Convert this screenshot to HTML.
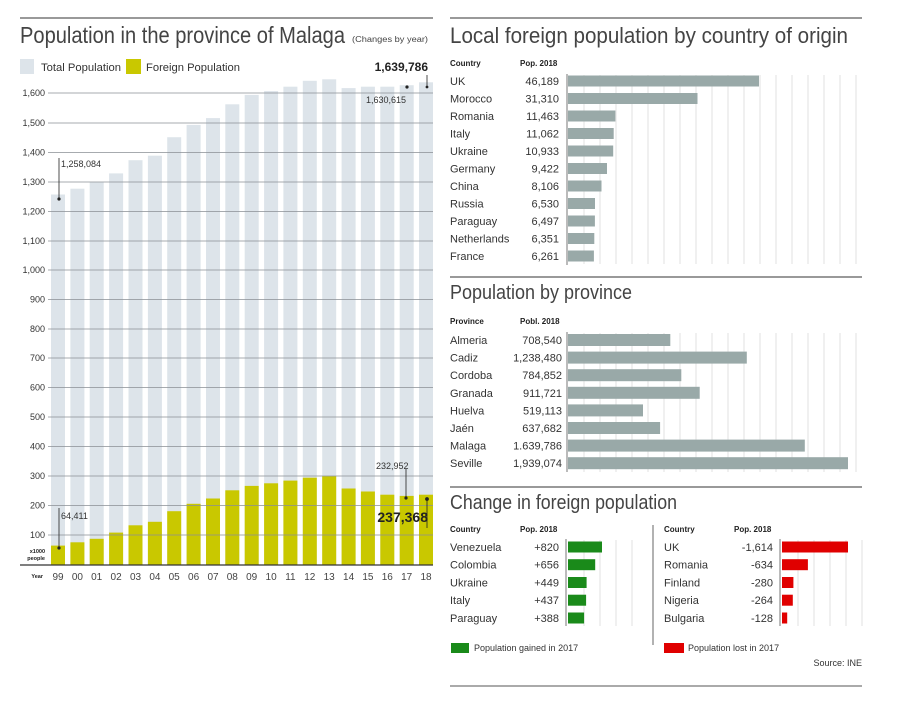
<!DOCTYPE html>
<html><head><meta charset="utf-8"><style>
body{margin:0;background:#fff}
svg{display:block;font-family:"Liberation Sans",sans-serif}
</style></head><body>
<svg width="900" height="708" viewBox="0 0 900 708" xmlns="http://www.w3.org/2000/svg">
<rect width="900" height="708" fill="#fff"/>
<!-- LEFT -->
<line x1="20" y1="18" x2="433" y2="18" stroke="#333" stroke-width="1"/>
<text x="20" y="43" font-size="23" fill="#444" textLength="325" lengthAdjust="spacingAndGlyphs">Population in the province of Malaga</text>
<text x="352" y="42" font-size="8" fill="#444" textLength="76" lengthAdjust="spacingAndGlyphs">(Changes by year)</text>
<rect x="20" y="59" width="14" height="15" fill="#dde4ea"/>
<text x="41" y="71" font-size="11" fill="#333" textLength="80" lengthAdjust="spacingAndGlyphs">Total Population</text>
<rect x="126" y="59" width="15" height="15" fill="#c9c800"/>
<text x="146" y="71" font-size="11" fill="#333" textLength="94" lengthAdjust="spacingAndGlyphs">Foreign Population</text>
<text x="428" y="71" font-size="12" font-weight="bold" text-anchor="end" fill="#222">1,639,786</text>
<g fill="#dde4ea">
<rect x="51" y="194.5" width="14" height="370.5"/><rect x="70.4" y="188.7" width="14" height="376.3"/><rect x="89.7" y="182.2" width="14" height="382.8"/><rect x="109.1" y="173.4" width="14" height="391.6"/><rect x="128.5" y="160.2" width="14" height="404.8"/><rect x="147.9" y="155.7" width="14" height="409.3"/><rect x="167.2" y="137.2" width="14" height="427.8"/><rect x="186.6" y="124.9" width="14" height="440.1"/><rect x="206" y="118.1" width="14" height="446.9"/><rect x="225.3" y="104.3" width="14" height="460.7"/><rect x="244.7" y="94.9" width="14" height="470.1"/><rect x="264.1" y="91.1" width="14" height="473.9"/><rect x="283.4" y="86.7" width="14" height="478.3"/><rect x="302.8" y="80.8" width="14" height="484.2"/><rect x="322.2" y="79.3" width="14" height="485.7"/><rect x="341.6" y="88.1" width="14" height="476.9"/><rect x="360.9" y="86.7" width="14" height="478.3"/><rect x="380.3" y="86.7" width="14" height="478.3"/><rect x="399.7" y="85.2" width="14" height="479.8"/><rect x="419" y="82.3" width="14" height="482.7"/>
</g>
<g fill="#c9c800">
<rect x="51" y="545.6" width="14" height="19.4"/><rect x="70.4" y="542.3" width="14" height="22.7"/><rect x="89.7" y="538.8" width="14" height="26.2"/><rect x="109.1" y="532.6" width="14" height="32.4"/><rect x="128.5" y="525.3" width="14" height="39.7"/><rect x="147.9" y="521.8" width="14" height="43.2"/><rect x="167.2" y="511.2" width="14" height="53.8"/><rect x="186.6" y="503.8" width="14" height="61.2"/><rect x="206" y="498.5" width="14" height="66.5"/><rect x="225.3" y="490.3" width="14" height="74.7"/><rect x="244.7" y="485.9" width="14" height="79.1"/><rect x="264.1" y="483.3" width="14" height="81.7"/><rect x="283.4" y="480.6" width="14" height="84.4"/><rect x="302.8" y="477.7" width="14" height="87.3"/><rect x="322.2" y="476.2" width="14" height="88.8"/><rect x="341.6" y="488.5" width="14" height="76.5"/><rect x="360.9" y="491.5" width="14" height="73.5"/><rect x="380.3" y="494.7" width="14" height="70.3"/><rect x="399.7" y="495.9" width="14" height="69.1"/><rect x="419" y="494.7" width="14" height="70.3"/>
</g>
<g stroke="#8a8f94" stroke-width="0.8">
<line x1="48" y1="93" x2="433" y2="93"/><line x1="48" y1="123" x2="433" y2="123"/><line x1="48" y1="152.5" x2="433" y2="152.5"/><line x1="48" y1="182" x2="433" y2="182"/><line x1="48" y1="211.5" x2="433" y2="211.5"/><line x1="48" y1="241" x2="433" y2="241"/><line x1="48" y1="270" x2="433" y2="270"/><line x1="48" y1="299.5" x2="433" y2="299.5"/><line x1="48" y1="329" x2="433" y2="329"/><line x1="48" y1="358" x2="433" y2="358"/><line x1="48" y1="387.5" x2="433" y2="387.5"/><line x1="48" y1="417" x2="433" y2="417"/><line x1="48" y1="446.5" x2="433" y2="446.5"/><line x1="48" y1="476" x2="433" y2="476"/><line x1="48" y1="505.5" x2="433" y2="505.5"/><line x1="48" y1="535" x2="433" y2="535"/>
</g>
<line x1="20" y1="565" x2="433" y2="565" stroke="#333" stroke-width="1.2"/>
<g font-size="9" fill="#333" text-anchor="end">
<text x="45" y="96">1,600</text><text x="45" y="126">1,500</text><text x="45" y="155.5">1,400</text><text x="45" y="185">1,300</text><text x="45" y="214.5">1,200</text><text x="45" y="244">1,100</text><text x="45" y="273">1,000</text><text x="45" y="302.5">900</text><text x="45" y="332">800</text><text x="45" y="361">700</text><text x="45" y="390.5">600</text><text x="45" y="420">500</text><text x="45" y="449.5">400</text><text x="45" y="479">300</text><text x="45" y="508.5">200</text><text x="45" y="538">100</text>
</g>
<text x="45" y="553" font-size="5.5" font-weight="bold" text-anchor="end" fill="#222">x1000</text>
<text x="45" y="560" font-size="5.5" font-weight="bold" text-anchor="end" fill="#222">people</text>
<text x="43" y="578" font-size="5.5" font-weight="bold" text-anchor="end" fill="#222">Year</text>
<g font-size="10" fill="#444" text-anchor="middle">
<text x="58" y="580">99</text><text x="77.4" y="580">00</text><text x="96.7" y="580">01</text><text x="116.1" y="580">02</text><text x="135.5" y="580">03</text><text x="154.9" y="580">04</text><text x="174.2" y="580">05</text><text x="193.6" y="580">06</text><text x="213" y="580">07</text><text x="232.3" y="580">08</text><text x="251.7" y="580">09</text><text x="271.1" y="580">10</text><text x="290.4" y="580">11</text><text x="309.8" y="580">12</text><text x="329.2" y="580">13</text><text x="348.6" y="580">14</text><text x="367.9" y="580">15</text><text x="387.3" y="580">16</text><text x="406.7" y="580">17</text><text x="426" y="580">18</text>
</g>
<g stroke="#222" stroke-width="0.8" fill="#222">
<line x1="59" y1="158" x2="59" y2="199"/><circle cx="59" cy="199" r="1.2"/>
<line x1="59" y1="508" x2="59" y2="548"/><circle cx="59" cy="548" r="1.2"/>
<line x1="406" y1="469" x2="406" y2="498"/><circle cx="406" cy="498" r="1.2"/>
<line x1="427" y1="500" x2="427" y2="528"/><circle cx="427" cy="499" r="1.5"/>
<line x1="427" y1="75" x2="427" y2="88"/><circle cx="427" cy="87" r="1"/>
<circle cx="407" cy="87" r="1.2"/>
</g>
<g font-size="9" fill="#333">
<text x="61" y="167">1,258,084</text>
<text x="61" y="519">64,411</text>
<text x="366" y="103">1,630,615</text>
<text x="376" y="469">232,952</text>
</g>
<text x="428" y="522" font-size="14" font-weight="bold" text-anchor="end" fill="#222">237,368</text>

<!-- RIGHT TOP -->
<line x1="450" y1="18" x2="862" y2="18" stroke="#333"/>
<text x="450" y="43" font-size="22" fill="#444" textLength="398" lengthAdjust="spacingAndGlyphs">Local foreign population by country of origin</text>
<text x="450" y="66" font-size="8" font-weight="bold" fill="#222">Country</text>
<text x="520" y="66" font-size="8" font-weight="bold" fill="#222">Pop. 2018</text>
<path d="M584 75V264M600 75V264M616 75V264M632 75V264M648 75V264M664 75V264M680 75V264M696 75V264M712 75V264M728 75V264M744 75V264M760 75V264M776 75V264M792 75V264M808 75V264M824 75V264M840 75V264M856 75V264" stroke="#e2e2e2" stroke-width="1"/>
<line x1="567" y1="74" x2="567" y2="265" stroke="#777"/>
<g fill="#99a9a8">
<rect x="568" y="75.5" width="191" height="11"/><rect x="568" y="93" width="129.5" height="11"/><rect x="568" y="110.5" width="47.4" height="11"/><rect x="568" y="128" width="45.7" height="11"/><rect x="568" y="145.5" width="45.2" height="11"/><rect x="568" y="163" width="39" height="11"/><rect x="568" y="180.5" width="33.5" height="11"/><rect x="568" y="198" width="27" height="11"/><rect x="568" y="215.5" width="26.9" height="11"/><rect x="568" y="233" width="26.3" height="11"/><rect x="568" y="250.5" width="25.9" height="11"/>
</g>
<g font-size="11" fill="#333">
<text x="450" y="85">UK</text><text x="450" y="102.5">Morocco</text><text x="450" y="120">Romania</text><text x="450" y="137.5">Italy</text><text x="450" y="155">Ukraine</text><text x="450" y="172.5">Germany</text><text x="450" y="190">China</text><text x="450" y="207.5">Russia</text><text x="450" y="225">Paraguay</text><text x="450" y="242.5">Netherlands</text><text x="450" y="260">France</text>
</g>
<g font-size="11" fill="#333" text-anchor="end">
<text x="559" y="85">46,189</text><text x="559" y="102.5">31,310</text><text x="559" y="120">11,463</text><text x="559" y="137.5">11,062</text><text x="559" y="155">10,933</text><text x="559" y="172.5">9,422</text><text x="559" y="190">8,106</text><text x="559" y="207.5">6,530</text><text x="559" y="225">6,497</text><text x="559" y="242.5">6,351</text><text x="559" y="260">6,261</text>
</g>
<line x1="450" y1="277" x2="862" y2="277" stroke="#333"/>

<!-- PROVINCE -->
<text x="450" y="299" font-size="20" fill="#444" textLength="182" lengthAdjust="spacingAndGlyphs">Population by province</text>
<text x="450" y="324" font-size="8" font-weight="bold" fill="#222">Province</text>
<text x="520" y="324" font-size="8" font-weight="bold" fill="#222">Pobl. 2018</text>
<path d="M584 333V472M600 333V472M616 333V472M632 333V472M648 333V472M664 333V472M680 333V472M696 333V472M712 333V472M728 333V472M744 333V472M760 333V472M776 333V472M792 333V472M808 333V472M824 333V472M840 333V472M856 333V472" stroke="#e2e2e2"/>
<line x1="567" y1="332" x2="567" y2="472" stroke="#777"/>
<g fill="#99a9a8">
<rect x="568" y="334" width="102.3" height="12"/><rect x="568" y="351.6" width="178.8" height="12"/><rect x="568" y="369.2" width="113.3" height="12"/><rect x="568" y="386.8" width="131.7" height="12"/><rect x="568" y="404.4" width="75" height="12"/><rect x="568" y="422" width="92.1" height="12"/><rect x="568" y="439.6" width="236.8" height="12"/><rect x="568" y="457.2" width="280" height="12"/>
</g>
<g font-size="11" fill="#333">
<text x="450" y="344">Almeria</text><text x="450" y="361.6">Cadiz</text><text x="450" y="379.2">Cordoba</text><text x="450" y="396.8">Granada</text><text x="450" y="414.4">Huelva</text><text x="450" y="432">Jaén</text><text x="450" y="449.6">Malaga</text><text x="450" y="467.2">Seville</text>
</g>
<g font-size="11" fill="#333" text-anchor="end">
<text x="562" y="344">708,540</text><text x="562" y="361.6">1,238,480</text><text x="562" y="379.2">784,852</text><text x="562" y="396.8">911,721</text><text x="562" y="414.4">519,113</text><text x="562" y="432">637,682</text><text x="562" y="449.6">1.639,786</text><text x="562" y="467.2">1,939,074</text>
</g>
<line x1="450" y1="487" x2="862" y2="487" stroke="#333"/>

<!-- CHANGE -->
<text x="450" y="509" font-size="20" fill="#444" textLength="227" lengthAdjust="spacingAndGlyphs">Change in foreign population</text>
<g font-size="8" font-weight="bold" fill="#222">
<text x="450" y="532">Country</text><text x="520" y="532">Pop. 2018</text>
<text x="664" y="532">Country</text><text x="734" y="532">Pop. 2018</text>
</g>
<line x1="653" y1="525" x2="653" y2="645" stroke="#666"/>
<path d="M584 540V626M600 540V626M616 540V626M632 540V626M798 540V626M814 540V626M830 540V626M846 540V626M862 540V626" stroke="#e2e2e2"/>
<line x1="566" y1="539" x2="566" y2="626" stroke="#777"/>
<line x1="780" y1="539" x2="780" y2="626" stroke="#777"/>
<g fill="#1a8a1a">
<rect x="568" y="541.5" width="34" height="11"/><rect x="568" y="559.2" width="27.2" height="11"/><rect x="568" y="577" width="18.6" height="11"/><rect x="568" y="594.7" width="18.1" height="11"/><rect x="568" y="612.5" width="16.1" height="11"/>
</g>
<g fill="#e00000">
<rect x="782" y="541.5" width="66" height="11"/><rect x="782" y="559.2" width="25.9" height="11"/><rect x="782" y="577" width="11.4" height="11"/><rect x="782" y="594.7" width="10.8" height="11"/><rect x="782" y="612.5" width="5.2" height="11"/>
</g>
<g font-size="11" fill="#333">
<text x="450" y="551">Venezuela</text><text x="450" y="568.7">Colombia</text><text x="450" y="586.5">Ukraine</text><text x="450" y="604.2">Italy</text><text x="450" y="622">Paraguay</text>
<text x="664" y="551">UK</text><text x="664" y="568.7">Romania</text><text x="664" y="586.5">Finland</text><text x="664" y="604.2">Nigeria</text><text x="664" y="622">Bulgaria</text>
</g>
<g font-size="11" fill="#333" text-anchor="end">
<text x="559" y="551">+820</text><text x="559" y="568.7">+656</text><text x="559" y="586.5">+449</text><text x="559" y="604.2">+437</text><text x="559" y="622">+388</text>
<text x="773" y="551">-1,614</text><text x="773" y="568.7">-634</text><text x="773" y="586.5">-280</text><text x="773" y="604.2">-264</text><text x="773" y="622">-128</text>
</g>
<rect x="451" y="643" width="18" height="10" fill="#1a8a1a"/>
<text x="474" y="651" font-size="9" fill="#333">Population gained in 2017</text>
<rect x="664" y="643" width="20" height="10" fill="#e00000"/>
<text x="688" y="651" font-size="9" fill="#333">Population lost in 2017</text>
<text x="862" y="666" font-size="9" fill="#333" text-anchor="end">Source: INE</text>
<line x1="450" y1="686" x2="862" y2="686" stroke="#555"/>
</svg>
</body></html>
